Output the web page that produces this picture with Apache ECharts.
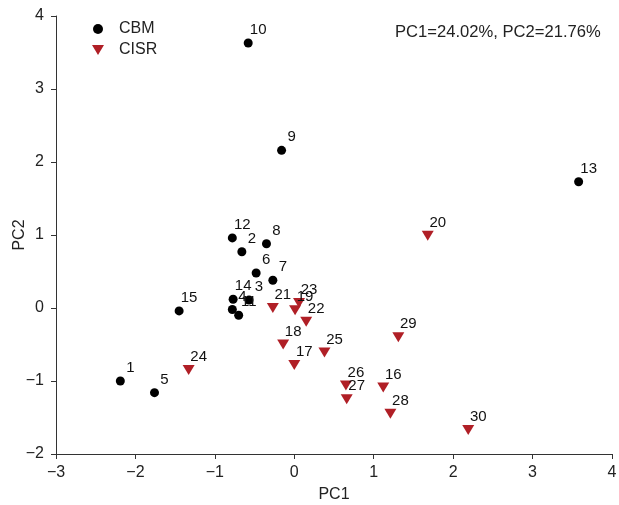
<!DOCTYPE html>
<html>
<head>
<meta charset="utf-8">
<script src="https://cdn.jsdelivr.net/npm/echarts@6/dist/echarts.min.js"></script>
<style>
  html, body { margin: 0; padding: 0; background: #fff; }
  #chart { width: 619px; height: 505px; }
</style>
</head>
<body>
<div id="chart"></div>
<script>
// PCA scores, sample groups
const cbmIds = ['1','2','3','4','5','6','7','8','9','10','11','12','13','14','15'];
const cbmPC1 = [-2.19,-0.66,-0.57,-0.78,-1.76,-0.48,-0.27,-0.35,-0.16,-0.58,-0.70,-0.78,3.58,-0.77,-1.45];
const cbmPC2 = [-1.00,0.77,0.11,-0.02,-1.16,0.48,0.38,0.88,2.16,3.63,-0.10,0.96,1.73,0.12,-0.04];

const cisrIds = ['16','17','18','19','20','21','22','23','24','25','26','27','28','29','30'];
const cisrPC1 = [1.12,0.00,-0.14,0.01,1.68,-0.27,0.15,0.06,-1.33,0.38,0.65,0.66,1.21,1.31,2.19];
const cisrPC2 = [-1.09,-0.78,-0.50,-0.03,0.99,0.00,-0.19,0.07,-0.85,-0.61,-1.06,-1.25,-1.45,-0.40,-1.67];

const xTicks = [-3, 4, 1];   // min, max, step
const yTicks = [-2, 4, 1];
const varianceNote = 'PC1=24.02%, PC2=21.76%';

const font = 'Liberation Sans, Arial, sans-serif';
const redColor = '#b01f26';
const downTriangle = 'path://M0,0 L12,0 L6,10 Z';

function toPoints(ids, xs, ys) {
  return ids.map((id, i) => [xs[i], ys[i], id]);
}

const labelCfg = {
  show: true,
  position: 'inside',
  offset: [10, -13],
  formatter: p => p.value[2],
  color: '#111',
  fontSize: 15,
  fontFamily: font
};

const minus = v => v < 0 ? '\u2212' + Math.abs(v) : String(v);

const axisCommon = {
  axisLine: { show: true, onZero: false, lineStyle: { color: '#333', width: 1 } },
  axisTick: { show: true, inside: false, length: 5, lineStyle: { color: '#333' } },
  splitLine: { show: false },
  nameMoveOverlap: false,
  nameTextStyle: { color: '#222', fontSize: 16, fontFamily: font }
};

const chart = echarts.init(document.getElementById('chart'), null, { renderer: 'canvas' });
chart.setOption({
  animation: false,
  backgroundColor: '#fff',
  grid: { left: 56, right: 7, top: 16, bottom: 51, containLabel: false, outerBoundsMode: 'none' },
  xAxis: Object.assign({}, axisCommon, {
    type: 'value', min: xTicks[0], max: xTicks[1], interval: xTicks[2],
    name: 'PC1', nameLocation: 'middle', nameGap: 33,
    axisLabel: { color: '#222', fontSize: 16, fontFamily: font, margin: 11, formatter: minus }
  }),
  yAxis: Object.assign({}, axisCommon, {
    type: 'value', min: yTicks[0], max: yTicks[1], interval: yTicks[2],
    name: 'PC2', nameLocation: 'middle', nameGap: 28,
    axisLabel: { color: '#222', fontSize: 16, fontFamily: font, margin: 12, formatter: minus }
  }),
  legend: {
    orient: 'vertical',
    left: 87, top: 16,
    itemWidth: 32, itemHeight: 10, itemGap: 5,
    textStyle: { fontSize: 16, fontFamily: font, color: '#222' },
    data: [
      { name: 'CBM', icon: 'circle', itemStyle: { color: '#000', opacity: 1 } },
      { name: 'CISR', icon: downTriangle, itemStyle: { color: redColor, opacity: 1 } }
    ]
  },
  graphic: [{
    type: 'text', left: 395, top: 24,
    style: { text: varianceNote, fontSize: 16.6, fontFamily: font, fill: '#222' }
  }],
  series: [
    {
      name: 'CBM', type: 'scatter', symbol: 'circle', symbolSize: 9,
      itemStyle: { color: '#000', opacity: 1 },
      label: labelCfg,
      data: toPoints(cbmIds, cbmPC1, cbmPC2)
    },
    {
      name: 'CISR', type: 'scatter', symbol: downTriangle, symbolSize: [12, 10],
      itemStyle: { color: redColor, opacity: 1 },
      label: labelCfg,
      data: toPoints(cisrIds, cisrPC1, cisrPC2)
    }
  ]
});
</script>
</body>
</html>
